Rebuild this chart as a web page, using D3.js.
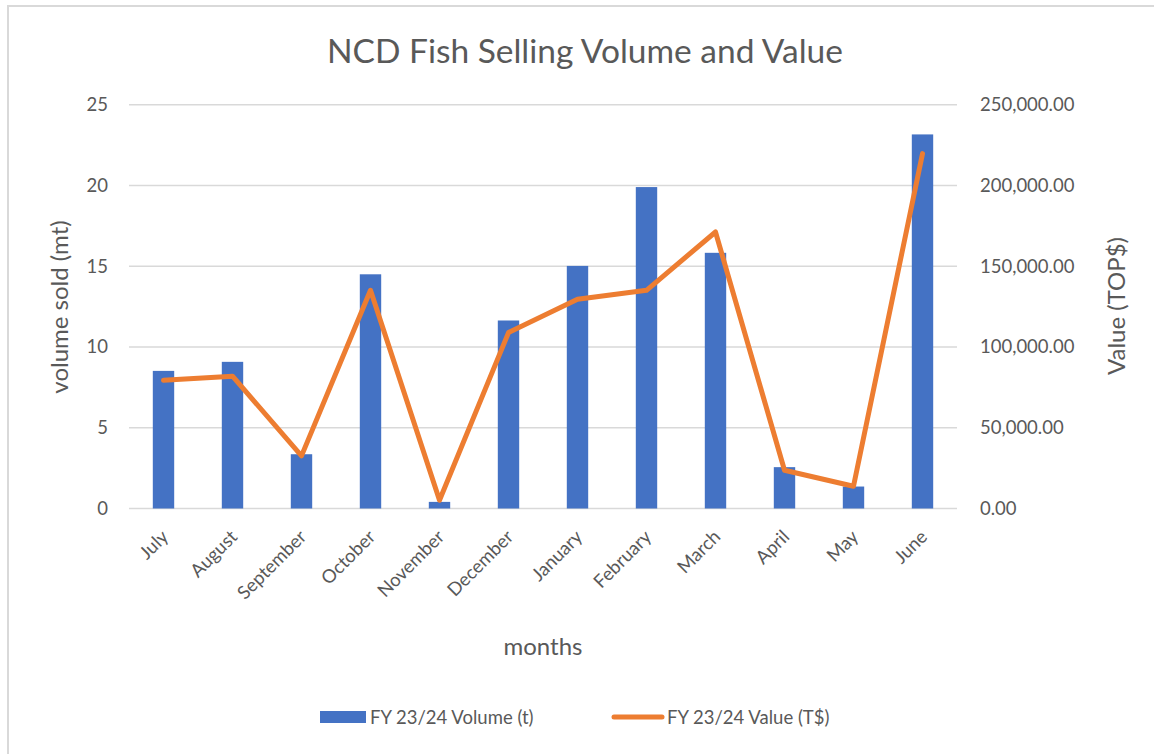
<!DOCTYPE html>
<html><head><meta charset="utf-8">
<script src="https://cdn.jsdelivr.net/npm/d3@7"></script>
<style>
html,body{margin:0;padding:0;background:#fff;}
text{font-family:Lato,"Open Sans",sans-serif;fill:#595959;}
</style></head>
<body><svg id="c" width="1154" height="754"></svg>
<script>
const months = ["July","August","September","October","November","December","January","February","March","April","May","June"];
const volume = [8.52,9.08,3.36,14.5,0.41,11.64,15.02,19.9,15.83,2.56,1.36,23.16];
const value = [79400,81900,32600,135100,5100,108900,129600,135100,171200,23700,13800,219700];
const leftTicks = [0,5,10,15,20,25];
const rightTicks = [0,50000,100000,150000,200000,250000];

const svg = d3.select("#c");
// outer frame
svg.append("rect").attr("x",8).attr("y",6).attr("width",1200).attr("height",800)
  .attr("fill","#fff").attr("stroke","#d9d9d9").attr("stroke-width",2);

const L=129,R=957,T=104.7,B=508.5;
const x = d3.scaleBand().domain(months).range([L,R]).paddingInner(0.69).paddingOuter(0.345);
const yL = d3.scaleLinear().domain([0,25]).range([B,T]);
const yR = d3.scaleLinear().domain([0,250000]).range([B,T]);

// gridlines
svg.append("g").selectAll("line").data(leftTicks).join("line")
  .attr("x1",L).attr("x2",R).attr("y1",d=>yL(d)).attr("y2",d=>yL(d))
  .attr("stroke","#d9d9d9").attr("stroke-width",1.5);

// left axis
const ga = svg.append("g").attr("transform",`translate(${L},0)`)
  .call(d3.axisLeft(yL).tickValues(leftTicks).tickSize(0).tickPadding(21));
ga.select(".domain").remove();
ga.selectAll("text").style("font-size","18.5px").attr("fill","#595959").style("font-family","Lato");

const gr = svg.append("g").attr("transform",`translate(${R},0)`)
  .call(d3.axisRight(yR).tickValues(rightTicks).tickSize(0).tickPadding(23).tickFormat(d3.format(",.2f")));
gr.select(".domain").remove();
gr.selectAll("text").style("font-size","18.5px").attr("fill","#595959").style("font-family","Lato");

// bars
svg.append("g").selectAll("rect").data(months).join("rect")
  .attr("x",d=>x(d)).attr("width",x.bandwidth())
  .attr("y",(d,i)=>yL(volume[i])).attr("height",(d,i)=>B-yL(volume[i]))
  .attr("fill","#4472C4");

// line
const line = d3.line().x((d,i)=>x(months[i])+x.bandwidth()/2).y(d=>yR(d));
svg.append("path").datum(value).attr("d",line).attr("fill","none")
  .attr("stroke","#ED7D31").attr("stroke-width",5).attr("stroke-linejoin","round").attr("stroke-linecap","round");

// x labels
svg.append("g").selectAll("text").data(months).join("text")
  .attr("transform",d=>`translate(${x(d)+x.bandwidth()/2+6},${538}) rotate(-45)`)
  .attr("text-anchor","end").style("font-size","18.5px").text(d=>d);

// titles
svg.append("text").attr("x",585).attr("y",63).attr("text-anchor","middle").style("font-size","33.5px").text("NCD Fish Selling Volume and Value");
svg.append("text").attr("x",543).attr("y",655).attr("text-anchor","middle").style("font-size","24px").text("months");
svg.append("text").attr("transform","translate(68,307) rotate(-90)").attr("text-anchor","middle").style("font-size","24px").text("volume sold (mt)");
svg.append("text").attr("transform","translate(1125,306) rotate(-90)").attr("text-anchor","middle").style("font-size","24px").text("Value (TOP$)");

// legend
svg.append("rect").attr("x",320).attr("y",711).attr("width",46).attr("height",12).attr("fill","#4472C4");
svg.append("text").attr("x",370).attr("y",724).style("font-size","18.5px").text("FY 23/24 Volume (t)");
svg.append("line").attr("x1",614).attr("x2",662).attr("y1",717).attr("y2",717).attr("stroke","#ED7D31").attr("stroke-width",5).attr("stroke-linecap","round");
svg.append("text").attr("x",667).attr("y",724).style("font-size","18.5px").text("FY 23/24 Value (T$)");
</script></body></html>
